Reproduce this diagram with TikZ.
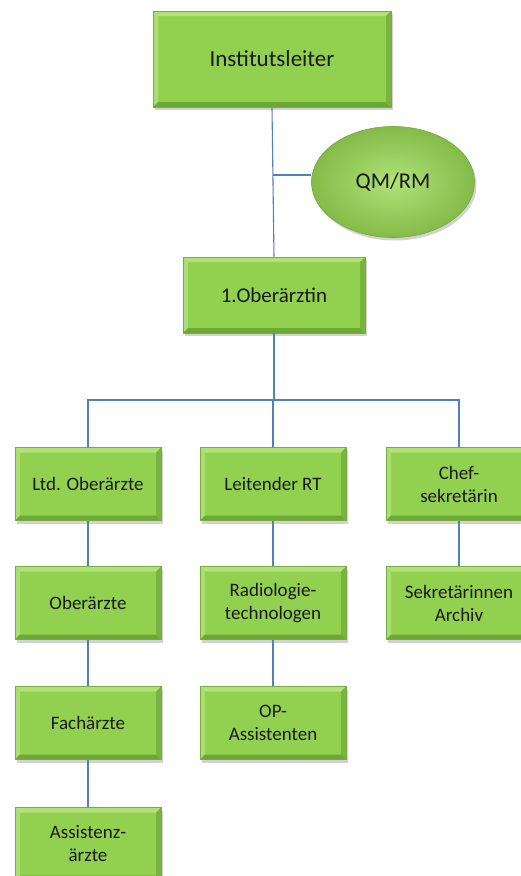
\documentclass[tikz,border=0pt]{standalone}
\usepackage{fontspec}
\setmainfont{Carlito}
\usetikzlibrary{shapes.geometric,shadows,calc}
\definecolor{boxgreen}{RGB}{146,208,80}
\definecolor{boxlight}{RGB}{176,226,120}
\definecolor{boxdark}{RGB}{110,168,52}
\definecolor{boxedge}{RGB}{120,170,70}
\definecolor{linkblue}{RGB}{79,129,189}
\definecolor{txt}{RGB}{25,25,25}
\tikzset{
  bevel/.style={path picture={
    \fill[boxlight] (path picture bounding box.north west) -- (path picture bounding box.north east)
      -- ($(path picture bounding box.north east)+(-5,5)$) -- ($(path picture bounding box.north west)+(5,5)$) -- cycle;
    \fill[boxlight!80!boxgreen] (path picture bounding box.north west) -- ($(path picture bounding box.north west)+(5,5)$)
      -- ($(path picture bounding box.south west)+(5,-5)$) -- (path picture bounding box.south west) -- cycle;
    \fill[boxdark] (path picture bounding box.south west) -- (path picture bounding box.south east)
      -- ($(path picture bounding box.south east)+(-5,-5)$) -- ($(path picture bounding box.south west)+(5,-5)$) -- cycle;
    \fill[boxdark!70!boxgreen] (path picture bounding box.north east) -- ($(path picture bounding box.north east)+(-5,5)$)
      -- ($(path picture bounding box.south east)+(-5,-5)$) -- (path picture bounding box.south east) -- cycle;
  }},
  orgbox/.style={rectangle, fill=boxgreen, draw=boxedge, line width=0.6pt, bevel,
    drop shadow={shadow xshift=2pt, shadow yshift=-3pt, opacity=0.35},
    minimum width=146pt, minimum height=73pt, inner sep=2pt,
    align=center, text=txt, font=\fontsize{19}{23}\selectfont},
  oval/.style={ellipse, fill=boxgreen, draw=boxedge, line width=0.6pt,
    shading=radial, inner color=boxlight, outer color=boxgreen!90!black,
    drop shadow={shadow xshift=2pt, shadow yshift=-3pt, opacity=0.35},
    minimum width=163pt, minimum height=111pt, inner sep=0pt,
    text=txt, font=\fontsize{22.5}{26}\selectfont},
  link/.style={draw=linkblue, line width=1.1pt}
}
\begin{document}
\begin{tikzpicture}[x=1pt,y=-1pt]
\useasboundingbox (0,0) rectangle (520,876);
\fill[white] (0,0) rectangle (520,876);
\node[orgbox, minimum width=238pt, minimum height=96pt, font=\fontsize{23}{27}\selectfont] (inst) at (272,59) {Institutsleiter};
\node[oval] (qm) at (393,182) {QM/RM};
\node[orgbox, minimum width=182pt, minimum height=76pt, font=\fontsize{21}{25}\selectfont] (o1) at (274,295) {1.Oberärztin};
\coordinate (j) at (273,175);
\coordinate (bus) at (0,400);

\node[orgbox] (ltd) at (88,484) {Ltd. Oberärzte};
\node[orgbox] (lrt) at (273,484) {Leitender RT};
\node[orgbox] (chef) at (459,484) {Chef-\\sekretärin};

\node[orgbox] (ober) at (88,603) {Oberärzte};
\node[orgbox] (radio) at (273,603) {Radiologie-\\technologen};
\node[orgbox] (sekr) at (459,603) {Sekretärinnen\\Archiv};

\node[orgbox] (fach) at (88,723) {Fachärzte};
\node[orgbox] (op) at (273,723) {OP-\\Assistenten};

\node[orgbox] (assi) at (88,844) {Assistenz-\\ärzte};

\draw[link] (inst.south) -- (o1.north);
\draw[link] (j) -- (qm.west |- j);
\draw[link] (o1.south) -- (o1.south |- bus);
\draw[link] (ltd.north) -- (ltd.north |- bus) -- (chef.north |- bus) -- (chef.north);
\draw[link] (lrt.north) -- (lrt.north |- bus);
\draw[link] (ltd) -- (ober);
\draw[link] (ober) -- (fach);
\draw[link] (fach) -- (assi);
\draw[link] (lrt) -- (radio);
\draw[link] (radio) -- (op);
\draw[link] (chef) -- (sekr);
\end{tikzpicture}
\end{document}
